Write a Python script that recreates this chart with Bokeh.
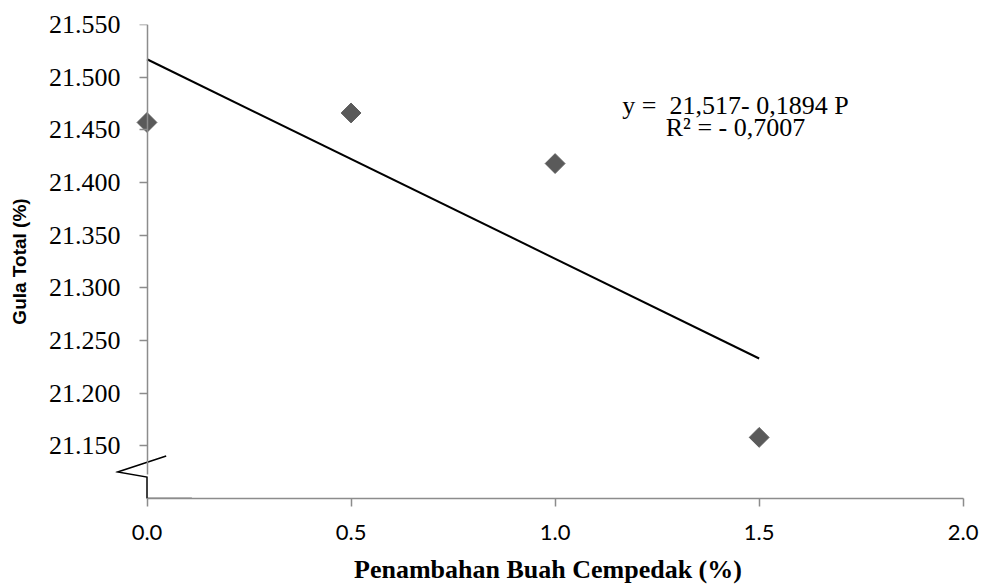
import math
from bokeh.plotting import figure
from bokeh.models import Range1d, FixedTicker, Label, LinearAxis
from bokeh.embed import file_html
from bokeh.resources import INLINE

# ---- data ----
penambahan = [0.0, 0.5, 1.0, 1.5]              # Penambahan Buah Cempedak (%)
gula_total = [21.457, 21.466, 21.418, 21.158]  # Gula Total (%)
trend_intercept = 21.517
trend_slope = -0.1894
x_ticks = [0.0, 0.5, 1.0, 1.5, 2.0]
x_tick_labels = ["0.0", "0.5", "1.0", "1.5", "2.0"]
y_ticks = [21.15, 21.20, 21.25, 21.30, 21.35, 21.40, 21.45, 21.50, 21.55]
y_tick_labels = ["21.150", "21.200", "21.250", "21.300", "21.350",
                 "21.400", "21.450", "21.500", "21.550"]
x_title = "Penambahan Buah Cempedak (%)"
y_title = "Gula Total (%)"
equation_text = "y =\u00a0 21,517- 0,1894 P"
r2_text = "R\u00b2 = - 0,7007"

X_MIN, X_MAX = 0.0, 2.0
Y_MIN, Y_MAX = 21.10, 21.55
# a little room left of the y axis for the axis-break mark
X_PAD_LEFT, X_PAD_RIGHT = 0.0772, 0.0424

p = figure(width=981, height=586,
           x_range=Range1d(X_MIN - X_PAD_LEFT, X_MAX + X_PAD_RIGHT),
           y_range=Range1d(Y_MIN, Y_MAX),
           output_backend="svg", toolbar_location=None,
           min_border_left=115, min_border_right=1,
           min_border_top=24, min_border_bottom=87)
p.grid.visible = False
p.outline_line_color = None
p.background_fill_color = "white"
p.border_fill_color = "white"

axis_gray = "#8c8c8c"

# ---- x axis ----
xa = p.xaxis[0]
xa.bounds = (X_MIN, X_MAX)
xa.axis_line_color = axis_gray
xa.axis_line_width = 1.5
xa.major_tick_line_color = axis_gray
xa.major_tick_line_width = 1.5
xa.major_tick_out = 8
xa.major_tick_in = 0
xa.minor_tick_in = 0
xa.minor_tick_out = 0
xa.ticker = FixedTicker(ticks=x_ticks)
xa.major_label_overrides = dict(zip(x_ticks, x_tick_labels))
xa.major_label_text_font = "Lato"
xa.major_label_text_font_size = "22px"
xa.major_label_text_color = "black"
xa.major_label_standoff = 18
xa.axis_label = x_title
xa.axis_label_text_font = "Liberation Serif"
xa.axis_label_text_font_size = "26px"
xa.axis_label_text_font_style = "bold"
xa.axis_label_text_color = "black"
xa.axis_label_standoff = 12

# ---- y axis: tick labels + title in the left panel ----
ya = p.yaxis[0]
ya.axis_line_color = None
ya.major_tick_line_color = None
ya.minor_tick_line_color = None
ya.major_tick_out = 0
ya.major_tick_in = 0
ya.minor_tick_in = 0
ya.minor_tick_out = 0
ya.ticker = FixedTicker(ticks=y_ticks)
ya.major_label_overrides = dict(zip(y_ticks, y_tick_labels))
ya.major_label_text_font = "Liberation Serif"
ya.major_label_text_font_size = "26px"
ya.major_label_text_color = "black"
ya.major_label_standoff = -5
ya.axis_label = y_title
ya.axis_label_text_font = "Liberation Sans"
ya.axis_label_text_font_size = "19px"
ya.axis_label_text_font_style = "bold"
ya.axis_label_text_color = "black"
ya.axis_label_standoff = 16

# ---- y axis line + ticks drawn at x = 0 ----
ya_line = LinearAxis(fixed_location=X_MIN, bounds=(21.123, Y_MAX),
                     ticker=FixedTicker(ticks=y_ticks),
                     axis_line_color=axis_gray, axis_line_width=1.5,
                     major_tick_line_color=axis_gray, major_tick_line_width=1.5,
                     major_tick_out=8, major_tick_in=0,
                     minor_tick_in=0, minor_tick_out=0,
                     major_label_overrides={t: "" for t in y_ticks})
p.add_layout(ya_line, "left")

# trend line from the regression coefficients
trend_x = [min(penambahan), max(penambahan)]
trend_y = [trend_intercept + trend_slope * v for v in trend_x]
p.line(trend_x, trend_y, line_color="black", line_width=2)

# data points (diamonds)
p.scatter(penambahan, gula_total, marker="square", size=14, angle=math.pi / 4,
          fill_color="#5a5a5a", line_color="#5a5a5a")

# equation labels
for txt, yy in ((equation_text, 21.4733), (r2_text, 21.4518)):
    p.add_layout(Label(x=1.442, y=yy, text=txt,
                       text_font="Liberation Serif", text_font_size="26px",
                       text_align="center", text_baseline="alphabetic",
                       text_color="black"))

# axis break symbol (decoration)
bx = [X_MIN + 0.047, X_MIN - 0.072, X_MIN, X_MIN, X_MIN + 0.11]
by = [Y_MIN + 0.0403, Y_MIN + 0.0252, Y_MIN + 0.0204, Y_MIN, Y_MIN]
p.line(bx, by, line_color="black", line_width=1.5, line_join="miter")

open("out.html", "w").write(file_html(p, INLINE))
